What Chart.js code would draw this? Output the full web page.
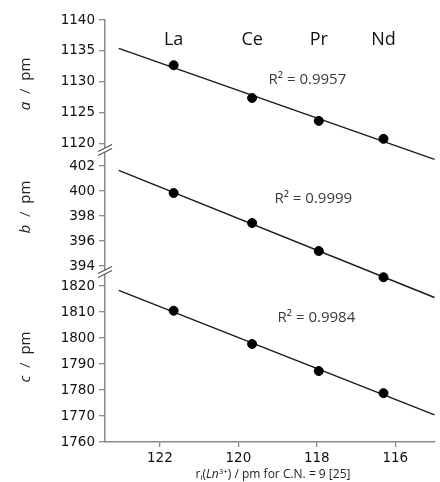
<!DOCTYPE html>
<html>
<head>
<meta charset="utf-8">
<script src="https://cdn.jsdelivr.net/npm/chart.js@4"></script>
<style>
html, body { margin: 0; padding: 0; background: #fff; }
</style>
</head>
<body>
<canvas id="myChart" width="440" height="482"></canvas>
<script>
// lattice parameters vs ionic radius (C.N. = 9)

var elements = ['La', 'Ce', 'Pr', 'Nd'];
var radii = [121.65, 119.65, 117.95, 116.3];
var aValues = [1132.7, 1127.4, 1123.7, 1120.8];
var bValues = [399.84, 397.44, 395.2, 393.1];
var cValues = [1810.5, 1797.7, 1787.3, 1778.8];
var r2Labels = ['R\u00b2 = 0.9957', 'R\u00b2 = 0.9999', 'R\u00b2 = 0.9984'];
var r2Pos = [[118.24, 1130.3], [118.09, 399.4], [118.01, 1807.7]];
var xTicks = [116, 118, 120, 122];
var aTicks = [1120, 1125, 1130, 1135, 1140];
var bTicks = [394, 396, 398, 400, 402];
var cTicks = [1760, 1770, 1780, 1790, 1800, 1810, 1820];
var trendFrom = 123.05, trendTo = 115;

function pts(ys) {
    return radii.map(function (r, i) { return { x: r, y: ys[i] }; });
}

// least squares trendline, like the excel one
function trend(ys) {
    var n = radii.length, sx = 0, sy = 0, sxx = 0, sxy = 0;
    for (var i = 0; i < n; i++) {
        sx += radii[i]; sy += ys[i];
        sxx += radii[i] * radii[i]; sxy += radii[i] * ys[i];
    }
    var k = (n * sxy - sx * sy) / (n * sxx - sx * sx);
    var b = (sy - k * sx) / n;
    return [{ x: trendFrom, y: k * trendFrom + b }, { x: trendTo, y: k * trendTo + b }];
}

function fixTicks(list) {
    return function (scale) {
        scale.ticks = list.map(function (v) { return { value: v }; });
    };
}

var axisGrey = '#8a8a8a';
var tickFont = { family: 'DejaVu Sans', size: 13.5 };

function yAxis(min, max, weight, list) {
    return {
        type: 'linear',
        position: 'left',
        stack: 'cell',
        stackWeight: weight,
        min: min,
        max: max,
        afterBuildTicks: fixTicks(list),
        afterFit: function (s) { s.width = 105; },
        grid: { display: true, drawOnChartArea: false, tickLength: 6, color: axisGrey, lineWidth: 1.3 },
        border: { color: axisGrey, width: 1.5 },
        ticks: {
            font: tickFont, color: '#111', padding: 4, autoSkip: false,
            callback: function (v) { return String(v); }
        }
    };
}

function pointSet(ys, axis) {
    return {
        data: pts(ys), yAxisID: axis, order: 0, clip: false,
        pointRadius: 4.5, pointBackgroundColor: '#000', pointBorderColor: '#000'
    };
}

function lineSet(ys, axis) {
    return {
        data: trend(ys), yAxisID: axis, order: 1, showLine: true, clip: false,
        pointRadius: 0, borderColor: '#1a1a1a', borderWidth: 1.4
    };
}

var labelsPlugin = {
    id: 'labels',
    afterDraw: function (chart) {
        var ctx = chart.ctx, x = chart.scales.x, area = chart.chartArea;
        var ys = [chart.scales.ya, chart.scales.yb, chart.scales.yc];
        ctx.save();

        // element names on top
        ctx.fillStyle = '#111';
        ctx.font = '18px "Open Sans"';
        ctx.textAlign = 'center';
        ctx.textBaseline = 'middle';
        elements.forEach(function (el, i) {
            ctx.fillText(el, x.getPixelForValue(radii[i]), 40);
        });

        // R2 labels
        ctx.fillStyle = '#3a3a3a';
        ctx.font = '15px "Open Sans"';
        r2Labels.forEach(function (t, i) {
            ctx.fillText(t, x.getPixelForValue(r2Pos[i][0]), ys[i].getPixelForValue(r2Pos[i][1]));
        });

        // axis breaks
        [ys[0].bottom, ys[1].bottom].forEach(function (by) {
            var lx = area.left;
            ctx.fillStyle = '#fff';
            ctx.beginPath();
            ctx.moveTo(lx - 6, by + 1);
            ctx.lineTo(lx + 6, by - 5);
            ctx.lineTo(lx + 6, by - 1);
            ctx.lineTo(lx - 6, by + 5);
            ctx.closePath();
            ctx.fill();
            ctx.strokeStyle = '#555';
            ctx.lineWidth = 1.2;
            ctx.beginPath();
            ctx.moveTo(lx - 7, by + 1.5); ctx.lineTo(lx + 7, by - 5.5);
            ctx.moveTo(lx - 7, by + 5.5); ctx.lineTo(lx + 7, by - 1.5);
            ctx.stroke();
        });

        // y titles, with italic letter
        var names = ['a', 'b', 'c'];
        var centers = [84, 207, 357];
        ctx.fillStyle = '#222';
        ctx.textAlign = 'left';
        ctx.textBaseline = 'middle';
        names.forEach(function (n, i) {
            ctx.save();
            ctx.translate(26, centers[i]);
            ctx.rotate(-Math.PI / 2);
            ctx.font = 'italic 15px "Open Sans"';
            var w1 = ctx.measureText(n).width;
            ctx.font = '15px "Open Sans"';
            var rest = '  /  pm';
            var w2 = ctx.measureText(rest).width;
            var sx = -(w1 + w2) / 2;
            ctx.font = 'italic 15px "Open Sans"';
            ctx.fillText(n, sx, 0);
            ctx.font = '15px "Open Sans"';
            ctx.fillText(rest, sx + w1, 0);
            ctx.restore();
        });

        // x title: r_i(Ln^3+) / pm for C.N. = 9 [25]
        var parts = [
            ['r', '12px "Open Sans"', 0],
            ['i', '8px "Open Sans"', 2],
            ['(', '12px "Open Sans"', 0],
            ['Ln', 'italic 12px "Open Sans"', 0],
            ['3+', '8px "Open Sans"', -4],
            [') / pm for C.N. = 9 [25]', '12px "Open Sans"', 0]
        ];
        ctx.textBaseline = 'alphabetic';
        var total = 0;
        parts.forEach(function (p) { ctx.font = p[1]; total += ctx.measureText(p[0]).width; });
        var px = 273 - total / 2;
        parts.forEach(function (p) {
            ctx.font = p[1];
            ctx.fillText(p[0], px, 478 + p[2]);
            px += ctx.measureText(p[0]).width;
        });

        ctx.restore();
    }
};

new Chart('myChart', {
    type: 'scatter',
    data: {
        datasets: [
            pointSet(aValues, 'ya'), lineSet(aValues, 'ya'),
            pointSet(bValues, 'yb'), lineSet(bValues, 'yb'),
            pointSet(cValues, 'yc'), lineSet(cValues, 'yc')
        ]
    },
    options: {
        responsive: false,
        animation: false,
        layout: { padding: { top: 20, right: 0, left: 0, bottom: 0 } },
        plugins: {
            legend: { display: false },
            tooltip: { enabled: false }
        },
        scales: {
            x: {
                type: 'linear',
                position: 'bottom',
                reverse: true,
                min: 115,
                max: 123.4,
                afterBuildTicks: fixTicks(xTicks),
                afterFit: function (s) { s.height = 40; },
                grid: { display: true, drawOnChartArea: false, tickLength: 5, color: axisGrey, lineWidth: 1.3 },
                border: { color: axisGrey, width: 1.5 },
                ticks: { font: tickFont, color: '#111', padding: 3 }
            },
            // stacked boxes are placed bottom-up in this order
            yc: yAxis(1760, 1825.4, 170, cTicks),
            yb: yAxis(393.52, 403.28, 122, bTicks),
            ya: yAxis(1119, 1140, 130, aTicks)
        }
    },
    plugins: [labelsPlugin]
});
</script>
</body>
</html>
